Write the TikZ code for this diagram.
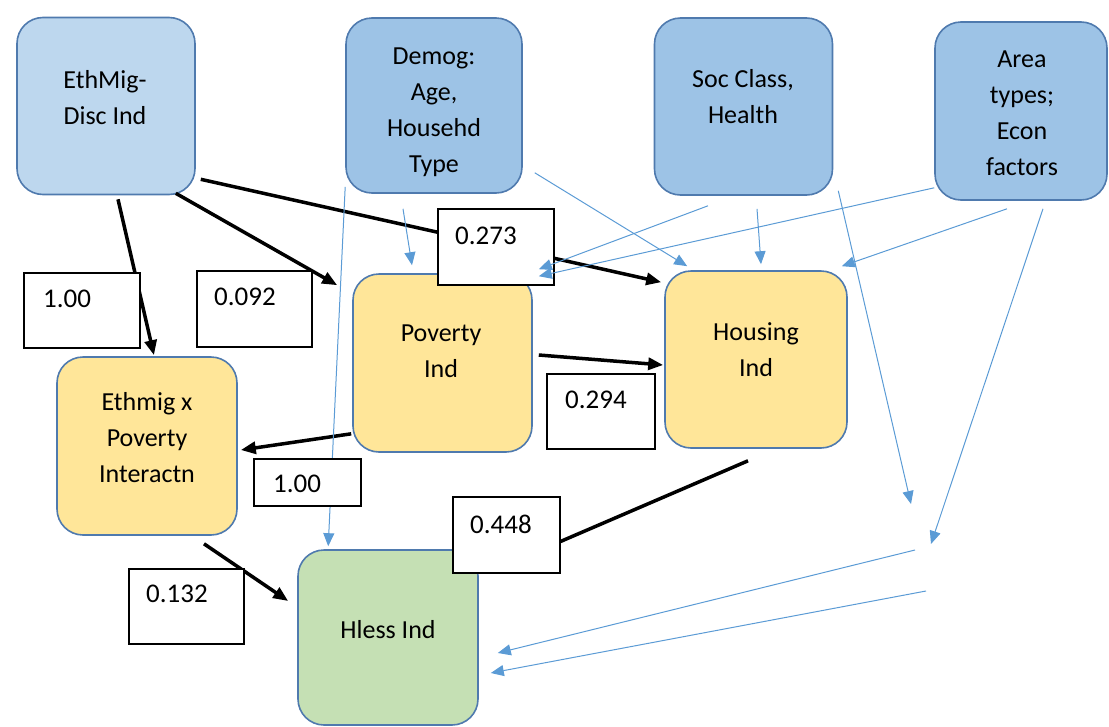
\documentclass[tikz,border=0pt]{standalone}
\usepackage{fontspec}
\setmainfont{Carlito}
\usetikzlibrary{arrows.meta,calc}
\definecolor{boxline}{HTML}{4F7AAE}
\definecolor{paleblue}{HTML}{BDD7EE}
\definecolor{midblue}{HTML}{9DC3E6}
\definecolor{goldfill}{HTML}{FFE699}
\definecolor{greenfill}{HTML}{C5E0B4}
\definecolor{ctrlblue}{HTML}{5B9BD5}

\begin{document}
\begin{tikzpicture}[x=1pt, y=-1pt,
  factor/.style={draw=boxline, line width=1.6pt, rounded corners=26pt, minimum width=178pt, minimum height=177pt, inner sep=0pt},
  boxtext/.style={align=center, inner sep=0pt, font=\fontsize{26}{36}\selectfont},
  valbox/.style={draw=black, line width=1.5pt, fill=white, anchor=north west, inner sep=0pt},
  valtext/.style={anchor=north west, inner sep=0pt, font=\fontsize{27}{32}\selectfont},
  coefarrow/.style={line width=3.5pt, -{Triangle[length=15pt,width=12pt]}},
  ctrlarrow/.style={draw=ctrlblue, line width=1pt, -{Triangle[length=13pt,width=11pt]}}]
  \useasboundingbox (0,0) rectangle (1109,726);

  % top row: background factors
  \node[factor, fill=paleblue] (ethmig) at (106,106) {};
  \node[boxtext] (ethmigtxt) at (105,97.5) {EthMig-\\Disc Ind};
  \node[factor, fill=midblue, minimum width=176pt, minimum height=175pt] (demog) at (434,105.5) {};
  \node[boxtext] (demogtxt) at (434,112.5) {Demog:\\Age,\\Househd\\Type};
  \node[factor, fill=midblue] (socclass) at (743.5,106.5) {};
  \node[boxtext] (socclasstxt) at (743,96.5) {Soc Class,\\Health};
  \node[factor, fill=midblue, minimum width=172pt, minimum height=178pt] (area) at (1021,111) {};
  \node[boxtext] (areatxt) at (1022,113) {Area\\types;\\Econ\\factors};

  % middle row and outcome
  \node[factor, fill=goldfill, minimum width=179pt, minimum height=178pt] (poverty) at (442.5,363) {};
  \node[boxtext] (povertytxt) at (441,351.5) {Poverty\\Ind};
  \node[factor, fill=goldfill, minimum width=182pt] (housing) at (756,359.5) {};
  \node[boxtext] (housingtxt) at (756,349.5) {Housing\\Ind};
  \node[factor, fill=goldfill, minimum width=180pt, minimum height=178pt] (interact) at (147,446) {};
  \node[boxtext] (interacttxt) at (147,438) {Ethmig x\\Poverty\\Interactn};
  \node[factor, fill=greenfill, minimum width=180pt, minimum height=175pt] (hless) at (388,637.5) {};
  \node[boxtext] (hlesstxt) at (388,630) {Hless Ind};

  % free ends of the area links
  \coordinate (socend) at (911,504);
  \coordinate (areaend) at (931,544);
  \coordinate (mergeA) at (915,550);
  \coordinate (mergeB) at (926,591);

  % coefficient paths
  \draw[coefarrow] ($(ethmig.south)+(12,4)$) -- ($(interact.north)+(7,-1)$);
  \draw[coefarrow] ($(ethmig.south east)+(-20,-2)$) -- ($(poverty.north west)+(-15,12)$);
  \draw[coefarrow] ($(ethmig.south east)+(5,-16)$) -- ($(housing.north west)+(-3,12)$);
  \draw[coefarrow] ($(poverty.east)+(6,-8)$) -- ($(housing.west)+(-1,5.5)$);
  \draw[coefarrow] ($(poverty.south west)+(-1,-19)$) -- ($(interact.east)+(3,4)$);
  \draw[coefarrow] ($(interact.south)+(57,8)$) -- ($(hless.west)+(-9,-36.5)$);
  \draw[coefarrow] ($(housing.south)+(-8,12)$) -- ($(hless.north east)+(8,24)$);

  % control links
  \draw[ctrlarrow] ($(demog.south west)+(0,-7)$) -- ($(hless.north west)+(31,-3)$);
  \draw[ctrlarrow] ($(demog.south)+(-31,15)$) -- ($(poverty.north)+(-30.5,-8)$);
  \draw[ctrlarrow] ($(demog.south east)+(12,-21)$) -- ($(housing.north west)+(23,-4)$);
  \draw[ctrlarrow] ($(socclass.south)+(13.5,13)$) -- ($(housing.north)+(5,-6)$);
  \draw[ctrlarrow] ($(socclass.south east)+(5,-5)$) -- (socend);
  \draw[ctrlarrow] ($(area.south)+(-14,8)$) -- ($(housing.north east)+(-6,-4)$);
  \draw[ctrlarrow] ($(area.south)+(22,8)$) -- (areaend);
  \draw[ctrlarrow] (mergeA) -- ($(hless.east)+(19,15.5)$);
  \draw[ctrlarrow] (mergeB) -- ($(hless.east)+(12,35.5)$);

  % coefficient boxes
  \node[valbox, minimum width=116pt, minimum height=76pt] (v273) at (437,208) {};
  \node[valtext] (v273txt) at (455,227) {0.273};
  \node[valbox, minimum width=116pt, minimum height=75pt] (v100a) at (23,272) {};
  \node[valtext] (v100atxt) at (43,290) {1.00};
  \node[valbox, minimum width=115pt, minimum height=76pt] (v092) at (196,270) {};
  \node[valtext] (v092txt) at (214,288) {0.092};
  \node[valbox, minimum width=108pt, minimum height=75pt] (v294) at (546,373) {};
  \node[valtext] (v294txt) at (565,391) {0.294};
  \node[valbox, minimum width=107pt, minimum height=47pt] (v100b) at (253,458) {};
  \node[valtext] (v100btxt) at (273,475) {1.00};
  \node[valbox, minimum width=107pt, minimum height=76pt] (v448) at (452,496) {};
  \node[valtext] (v448txt) at (470,515) {0.448};
  \node[valbox, minimum width=115pt, minimum height=75pt] (v132) at (128,568) {};
  \node[valtext] (v132txt) at (146,585) {0.132};

  % links drawn over the 0.273 box
  \draw[ctrlarrow] ($(socclass.south)+(-35.5,10)$) -- ($(poverty.north east)+(6,-4)$);
  \draw[ctrlarrow] ($(area.south west)+(0,-13)$) -- ($(poverty.north east)+(6,3)$);
\end{tikzpicture}
\end{document}
